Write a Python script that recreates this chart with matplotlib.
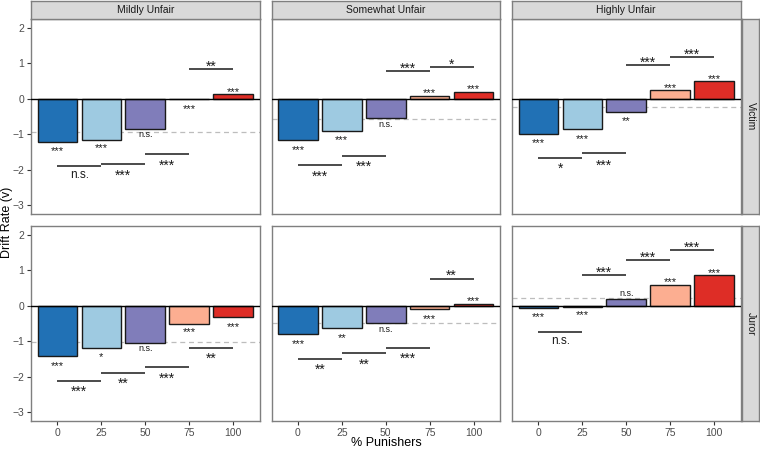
import matplotlib
matplotlib.use("Agg")
import matplotlib.pyplot as plt
from matplotlib.transforms import offset_copy

plt.rcParams['font.family'] = ['Liberation Sans', 'DejaVu Sans']

# ---------------- data ----------------
fairness = ["Mildly Unfair", "Somewhat Unfair", "Highly Unfair"]
roles = ["Victim", "Juror"]
punishers = ["0", "25", "50", "75", "100"]
bar_colors = ["#2171B5", "#9ECAE1", "#807DBA", "#FCAE91", "#DE2D26"]

# drift rates: [fairness][punisher level]
victim_vals = [
    [-1.22, -1.15, -0.85, -0.02, 0.13],
    [-1.17, -0.90, -0.54, 0.08, 0.20],
    [-0.99, -0.85, -0.37, 0.25, 0.49],
]
juror_vals = [
    [-1.41, -1.18, -1.04, -0.50, -0.33],
    [-0.81, -0.64, -0.49, -0.09, 0.06],
    [-0.06, -0.03, 0.18, 0.60, 0.86],
]
# reference (dashed) lines
victim_ref = [-0.94, -0.57, -0.22]
juror_ref = [-1.03, -0.49, 0.23]

# per-bar significance labels and their y positions
victim_bar_lab = [
    ["***", "***", "n.s.", "***", "***"],
    ["***", "***", "n.s.", "***", "***"],
    ["***", "***", "**", "***", "***"],
]
victim_bar_lab_y = [
    [-1.37, -1.31, -1.02, -0.20, 0.28],
    [-1.34, -1.08, -0.72, 0.25, 0.37],
    [-1.15, -1.03, -0.54, 0.39, 0.64],
]
juror_bar_lab = [
    ["***", "*", "n.s.", "***", "***"],
    ["***", "**", "n.s.", "***", "***"],
    ["***", "***", "n.s.", "***", "***"],
]
juror_bar_lab_y = [
    [-1.60, -1.35, -1.20, -0.66, -0.50],
    [-0.99, -0.83, -0.67, -0.28, 0.22],
    [-0.23, -0.18, 0.34, 0.75, 1.02],
]

# pairwise comparison brackets (between adjacent levels): line y, label, label y
victim_pair_y = [
    [-1.91, -1.83, -1.55, 0.84],
    [-1.87, -1.60, 0.79, 0.90],
    [-1.68, -1.54, 0.95, 1.18],
]
victim_pair_lab = [
    ["n.s.", "***", "***", "**"],
    ["***", "***", "***", "*"],
    ["*", "***", "***", "***"],
]
victim_pair_lab_y = [
    [-2.16, -2.05, -1.77, 1.03],
    [-2.08, -1.81, 0.97, 1.08],
    [-1.86, -1.76, 1.13, 1.36],
]
juror_pair_y = [
    [-2.11, -1.89, -1.73, -1.18],
    [-1.50, -1.34, -1.18, 0.76],
    [-0.75, 0.88, 1.30, 1.56],
]
juror_pair_lab = [
    ["***", "**", "***", "**"],
    ["**", "**", "***", "**"],
    ["n.s.", "***", "***", "***"],
]
juror_pair_lab_y = [
    [-2.31, -2.08, -1.93, -1.39],
    [-1.69, -1.55, -1.39, 0.96],
    [-0.99, 1.06, 1.48, 1.76],
]

y_ticks = [2, 1, 0, -1, -2, -3]
y_tick_labels = ["2", "1", "0", "\u22121", "\u22122", "\u22123"]

# ---------------- layout ----------------
W, H = 760, 449
fig = plt.figure(figsize=(W / 100, H / 100), dpi=100)

col_x = [31, 271.5, 512]
panel_w = 228.5
row_y = [19, 226]
panel_h = 195

border_col = "#7F7F7F"
strip_fill = "#D9D9D9"
txt_col = "#1A1A1A"


def fx(x):
    return x / W


def fy(ytop, h):
    return 1 - (ytop + h) / H


def sig_text(ax, x, y, s, star_size, ns_size):
    if s == "n.s.":
        ax.text(x, y, s, ha="center", va="center", fontsize=ns_size, color=txt_col)
    else:
        tr = offset_copy(ax.transData, fig=fig, x=0, y=-0.30 * star_size, units="points")
        ax.text(x, y, s, ha="center", va="center", fontsize=star_size, color=txt_col,
                transform=tr)


for r, role in enumerate(roles):
    vals = victim_vals if r == 0 else juror_vals
    refs = victim_ref if r == 0 else juror_ref
    blab = victim_bar_lab if r == 0 else juror_bar_lab
    blaby = victim_bar_lab_y if r == 0 else juror_bar_lab_y
    py = victim_pair_y if r == 0 else juror_pair_y
    plab = victim_pair_lab if r == 0 else juror_pair_lab
    plaby = victim_pair_lab_y if r == 0 else juror_pair_lab_y
    for c, fair in enumerate(fairness):
        ax = fig.add_axes([fx(col_x[c]), fy(row_y[r], panel_h), panel_w / W, panel_h / H])
        xs = list(range(1, len(punishers) + 1))
        ax.axhline(refs[c], color="#BDBDBD", lw=0.9, ls=(0, (4, 3)), zorder=1)
        ax.bar(xs, vals[c], width=0.9, color=bar_colors, edgecolor=txt_col,
               linewidth=1.0, zorder=2)
        ax.axhline(0, color="black", lw=1.0, zorder=3)
        for i, x in enumerate(xs):
            sig_text(ax, x, blaby[c][i], blab[c][i], 8, 6.5)
        for i in range(len(punishers) - 1):
            ax.plot([xs[i], xs[i + 1]], [py[c][i], py[c][i]], color=txt_col,
                    lw=1.1, solid_capstyle="butt", zorder=3)
            sig_text(ax, xs[i] + 0.5, plaby[c][i], plab[c][i], 10, 8.5)
        ax.set_xlim(0.4, 5.6)
        ax.set_ylim(-3.25, 2.25)
        ax.set_yticks(y_ticks)
        ax.set_xticks(xs)
        for sp in ax.spines.values():
            sp.set_color(border_col)
            sp.set_linewidth(1.0)
        ax.tick_params(length=3, width=0.8, color="#333333", labelcolor="#4D4D4D",
                       labelsize=7.5, pad=2)
        if c == 0:
            ax.set_yticklabels(y_tick_labels)
        else:
            ax.tick_params(axis="y", left=False, labelleft=False)
        if r == 1:
            ax.set_xticklabels(punishers)
        else:
            ax.tick_params(axis="x", bottom=False, labelbottom=False)

        # top strip
        if r == 0:
            sax = fig.add_axes([fx(col_x[c]), fy(0.5, 18.5), panel_w / W, 18.5 / H])
            sax.set_xticks([]); sax.set_yticks([])
            sax.set_facecolor(strip_fill)
            for sp in sax.spines.values():
                sp.set_color(border_col)
                sp.set_linewidth(1.0)
            sax.text(0.5, 0.5, fair, ha="center", va="center", fontsize=7.5,
                     color=txt_col, transform=sax.transAxes)
        # right strip
        if c == 2:
            sax = fig.add_axes([fx(741.5), fy(row_y[r], panel_h), 18 / W, panel_h / H])
            sax.set_xticks([]); sax.set_yticks([])
            sax.set_facecolor(strip_fill)
            for sp in sax.spines.values():
                sp.set_color(border_col)
                sp.set_linewidth(1.0)
            sax.text(0.5, 0.5, role, ha="center", va="center", fontsize=7.5,
                     rotation=-90, color=txt_col, transform=sax.transAxes)

fig.text(fx(7), 1 - 222 / H, "Drift Rate (v)", rotation=90, ha="center", va="center",
         fontsize=9, color="black")
fig.text(fx(386), 1 - 443 / H, "% Punishers", ha="center", va="center",
         fontsize=9, color="black")

fig.savefig("out.png", dpi=100)
